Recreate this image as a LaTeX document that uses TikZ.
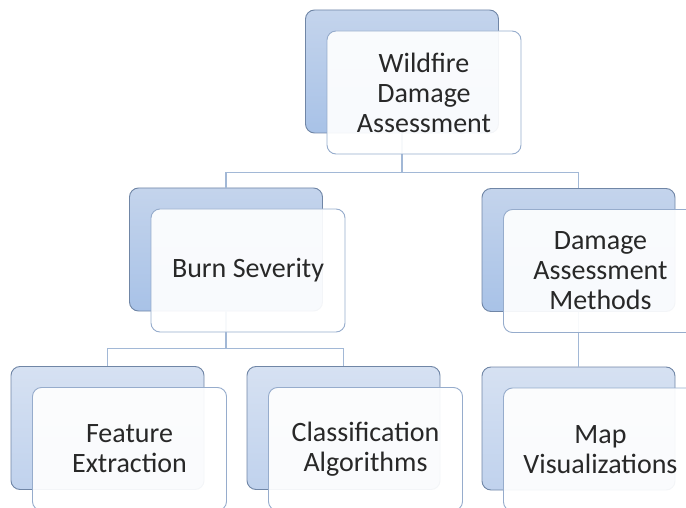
\documentclass[tikz,border=0pt]{standalone}
\usepackage{fontspec}
\setmainfont{Carlito}
\usepackage{tikz}
\usetikzlibrary{positioning,calc}

\definecolor{backline}{RGB}{112,134,166}
\definecolor{frontline}{RGB}{150,172,204}
\definecolor{linkcol}{RGB}{162,184,214}
\definecolor{textgray}{RGB}{40,40,40}

\begin{document}
\begin{tikzpicture}[
  x=1pt, y=-1pt,
  backbox/.style={draw=backline, line width=0.9pt, rounded corners=9pt, minimum width=193pt, minimum height=123pt,
    top color={rgb,255:red,196;green,212;blue,236}, bottom color={rgb,255:red,168;green,194;blue,231}},
  backlow/.style={backbox, top color={rgb,255:red,214;green,225;blue,242}, bottom color={rgb,255:red,192;green,210;blue,237}},
  frontbox/.style={draw=frontline, line width=0.9pt, rounded corners=9pt, minimum width=194pt, minimum height=123pt,
    fill=white, fill opacity=0.92, text opacity=1, align=center, text=textgray, font=\fontsize{28}{30}\selectfont},
  link/.style={draw=linkcol, line width=1.2pt},
]
\useasboundingbox (0,0) rectangle (686,508);

% Back shapes
\node[backbox] (wda-b) at (402,71.5) {};
\node[backbox] (burn-b) at (226,249.5) {};
\node[backbox] (dam-b) at (578.5,250) {};
\node[backlow] (feat-b) at (107.5,428) {};
\node[backlow] (class-b) at (343.5,428) {};
\node[backlow] (map-b) at (578.5,428.5) {};

% Connectors
\draw[link] (wda-b.south) -- ++(0,39) -| (burn-b.north);
\draw[link] (wda-b.south) -- ++(0,39) -| (dam-b.north);
\draw[link] (burn-b.south) -- ++(0,37) -| (feat-b.north);
\draw[link] (burn-b.south) -- ++(0,37) -| (class-b.north);
\draw[link] (dam-b.south) -- (map-b.north);

% Front shapes
\node[frontbox] (wda) at ([shift={(22,21)}]wda-b.center) {Wildfire\\Damage\\Assessment};
\node[frontbox] (burn) at ([shift={(22,21)}]burn-b.center) {Burn Severity};
\node[frontbox] (dam) at ([shift={(22,21)}]dam-b.center) {Damage\\Assessment\\Methods};
\node[frontbox] (feat) at ([shift={(22,21)}]feat-b.center) {Feature\\Extraction};
\node[frontbox] (class) at ([shift={(22,21)}]class-b.center) {Classification\\Algorithms};
\node[frontbox] (map) at ([shift={(22,21)}]map-b.center) {Map\\Visualizations};
\end{tikzpicture}
\end{document}
